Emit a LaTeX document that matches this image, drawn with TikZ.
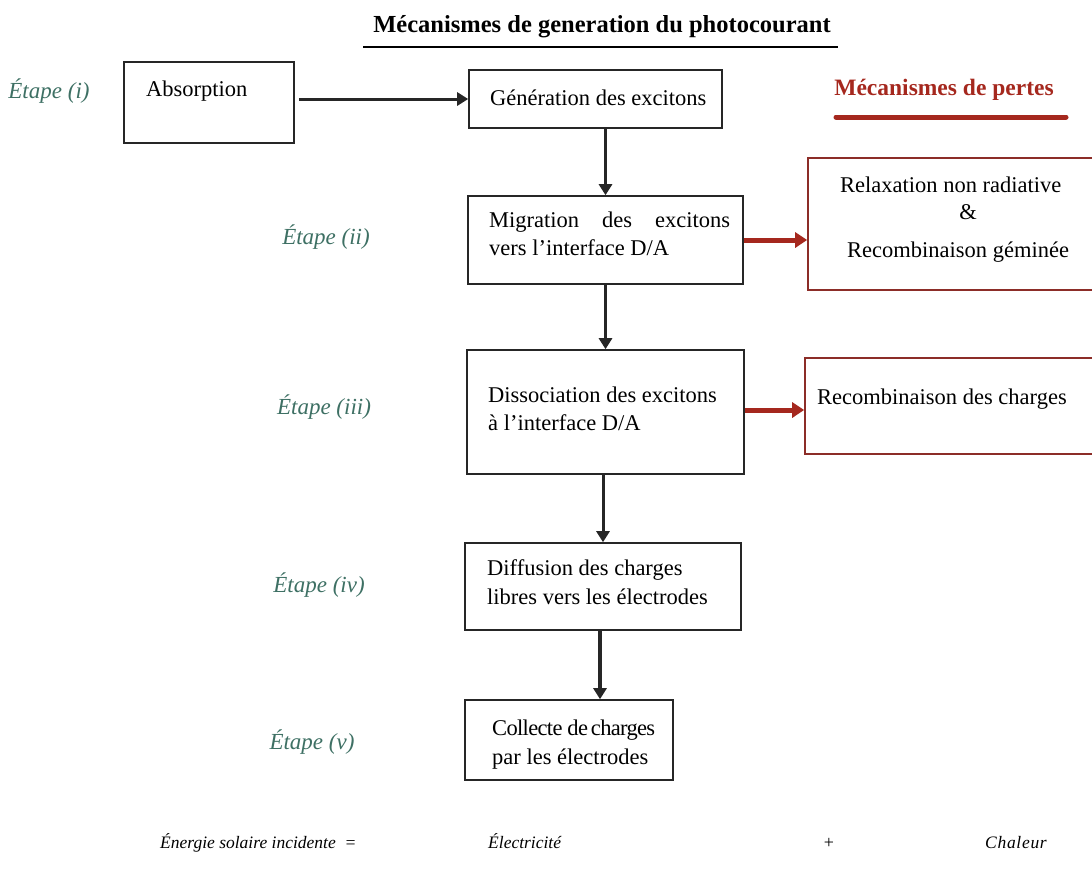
\documentclass[tikz,border=0pt]{standalone}
\usepackage{fontspec}
\setmainfont{Liberation Serif}
\usetikzlibrary{arrows.meta,calc}
\definecolor{stepcol}{RGB}{62,112,100}
\definecolor{losscol}{RGB}{165,40,30}
\definecolor{lossframe}{RGB}{140,45,40}
\begin{document}
\begin{tikzpicture}[x=1pt,y=-1pt,
  box/.style={draw=black!85,line width=1.6pt,inner sep=0pt},
  lossbox/.style={draw=lossframe,line width=1.6pt,inner sep=0pt},
  txt/.style={inner sep=0pt,anchor=base west,font=\fontsize{22.5}{27}\selectfont},
  steplab/.style={inner sep=0pt,text=stepcol,font=\fontsize{23}{27}\selectfont\itshape},
  bottxt/.style={inner sep=0pt,anchor=base west,font=\fontsize{17.5}{21}\selectfont\itshape},
  arr/.style={line width=3pt,draw=black!85,-{Triangle[length=11pt,width=13pt]}},
  redarr/.style={line width=5pt,draw=losscol,-{Triangle[length=12pt,width=15pt]}}]
\useasboundingbox (0,0) rectangle (1092,871);
% title
\node[inner sep=0pt,font=\fontsize{24.5}{29}\selectfont\bfseries] (title) at (602,27) {Mécanismes de generation du photocourant};
\draw[line width=1.5pt] (363,47) -- (838,47);
\node[inner sep=0pt,text=losscol,font=\fontsize{23.5}{28}\selectfont\bfseries] (losstitle) at (944,90) {Mécanismes de pertes};
\draw[line width=5pt,losscol,line cap=round] (836,117) -- (1066,117);
% boxes
\node[box,minimum width=170pt,minimum height=81pt] (abs) at (209,102.5) {};
\node[box,minimum width=253pt,minimum height=58pt] (gen) at (595.5,99) {};
\node[box,minimum width=275pt,minimum height=88pt] (mig) at (605.5,240) {};
\node[box,minimum width=277pt,minimum height=124pt] (dis) at (605.5,412) {};
\node[box,minimum width=276pt,minimum height=87pt] (dif) at (603,586.5) {};
\node[box,minimum width=208pt,minimum height=80pt] (col) at (569,740) {};
\node[lossbox,minimum width=292pt,minimum height=132pt] (loss1) at (954,224) {};
\node[lossbox,minimum width=295pt,minimum height=96pt] (loss2) at (952.5,406) {};
% box texts
\node[txt] (tabs) at (146,96) {Absorption};
\node[txt] (tgen) at (490,105) {Génération des excitons};
\node[txt] (tmig1) at (489,227) {\makebox[241pt][s]{Migration des excitons}};
\node[txt] (tmig2) at (489,255) {vers l’interface D/A};
\node[txt] (tdis1) at (488,402) {Dissociation des excitons};
\node[txt] (tdis2) at (488,430) {à l’interface D/A};
\node[txt] (tdif1) at (487,575) {Diffusion des charges};
\node[txt] (tdif2) at (487,604) {libres vers les électrodes};
\node[txt] (tcol1) at (492,735) {\addfontfeature{LetterSpace=-3}Collecte de\hspace{-2pt} charges};
\node[txt] (tcol2) at (492,764) {par les électrodes};
\node[txt] (tl1a) at (840,192) {Relaxation non radiative};
\node[inner sep=0pt,anchor=base,font=\fontsize{22.5}{27}\selectfont] (tl1b) at (968,219) {\&};
\node[txt] (tl1c) at (847,257) {Recombinaison géminée};
\node[txt] (tl2) at (817,404) {Recombinaison des charges};
% step labels
\node[steplab] (s1) at (49,91) {Étape (i)};
\node[steplab] (s2) at (326,237) {Étape (ii)};
\node[steplab] (s3) at (324,407) {Étape (iii)};
\node[steplab] (s4) at (319,585) {Étape (iv)};
\node[steplab] (s5) at (312,742) {Étape (v)};
% arrows
\draw[arr,shorten <=4pt] (abs.east |- gen.west) -- (gen.west);
\draw[arr] (mig.north |- gen.south) -- (mig.north);
\draw[arr] (mig.south) -- (mig.south |- dis.north);
\draw[arr] (dif.north |- dis.south) -- (dif.north);
\draw[arr,line width=4.5pt] ([xshift=-3pt]dif.south) -- ([xshift=-3pt]dif.south |- col.north);
\draw[redarr] (mig.east) -- (mig.east -| loss1.west);
\draw[redarr] ([yshift=2pt]dis.east) -- ([yshift=2pt]dis.east -| loss2.west);
% bottom line
\node[bottxt] (e1) at (160,848) {Énergie solaire incidente \ =};
\node[bottxt] (e2) at (488,848) {Électricité};
\node[inner sep=0pt,anchor=base,font=\fontsize{18}{22}\selectfont] (e3) at (829,848) {+};
\node[bottxt] (e4) at (985,848) {\addfontfeature{LetterSpace=4}Chaleur};
\end{tikzpicture}
\end{document}
